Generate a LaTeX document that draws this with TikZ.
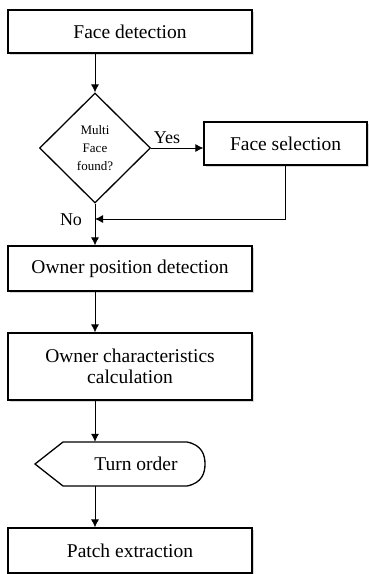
\documentclass[tikz,border=0pt]{standalone}
\usepackage{fontspec}
\setmainfont{Liberation Serif}
\usetikzlibrary{shapes.geometric,arrows.meta,calc,shadows}
\begin{document}
\begin{tikzpicture}[x=1pt,y=-1pt,
  boxstyle/.style={draw,line width=1.3pt,fill=white,minimum width=244pt,inner sep=0pt,
    font=\fontsize{19.5}{21}\selectfont,align=center,
    drop shadow={shadow xshift=1.5pt,shadow yshift=-1.5pt,fill=black!30,opacity=0.5}},
  decstyle/.style={draw,line width=1.3pt,fill=white,diamond,minimum width=111pt,minimum height=110pt,
    inner sep=0pt,font=\fontsize{13}{18}\selectfont,align=center},
  arr/.style={line width=0.8pt,-{Latex[length=8pt,width=8pt]}},
  lbl/.style={font=\fontsize{18}{20}\selectfont,inner sep=0pt}]
\useasboundingbox (0,0) rectangle (369,574);
\coordinate (col) at (95,0);
\node[boxstyle,minimum height=43pt] (fd) at (130,31.5) {Face detection};
\node[decstyle] (dia) at (95,148) {Multi\\Face\\found?};
\node[boxstyle,minimum width=163pt,minimum height=43pt] (fs) at (285.5,143.5) {Face selection};
\node[boxstyle,minimum height=45pt] (opd) at (130,268.5) {Owner position detection};
\node[boxstyle,minimum height=67pt] (occ) at (130,366.5) {Owner characteristics\\calculation};
\draw[line width=1.3pt,fill=white] (35,464) -- (63,442) -- (187,442)
  .. controls (202,445) and (205,455) .. (205,464)
  .. controls (205,473) and (202,483) .. (187,486) -- (63,486) -- cycle;
\node[inner sep=0pt,minimum width=170pt,minimum height=44pt,font=\fontsize{19.5}{21}\selectfont] (turn) at (120,464) {\hspace*{32pt}Turn order};
\node[boxstyle,minimum height=45pt] (pe) at (130,550.5) {Patch extraction};
\coordinate (merge) at (fs.south |- 0,219);
\draw[arr] (fd.south -| col) -- (dia.north);
\draw[arr] (dia.east) -- (dia.east -| fs.west);
\draw[line width=0.8pt] (fs.south -| merge) -- (merge);
\draw[arr] (merge) -- (merge -| col);
\draw[arr] (dia.south) -- (opd.north -| col);
\draw[arr] (opd.south -| col) -- (occ.north -| col);
\draw[arr] (occ.south -| col) -- (turn.north -| col);
\draw[arr] (turn.south -| col) -- (pe.north -| col);
\node[lbl] (yes) at (167,138) {Yes};
\node[lbl] (no) at (71,220) {No};
\end{tikzpicture}
\end{document}
